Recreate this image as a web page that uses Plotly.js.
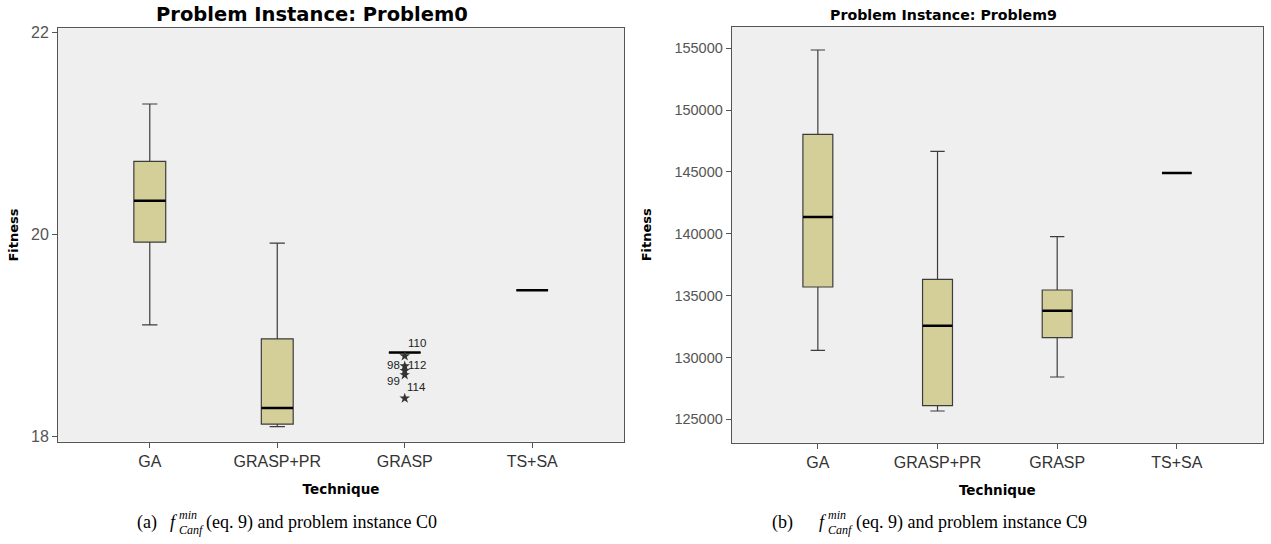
<!DOCTYPE html>
<html>
<head>
<meta charset="utf-8">
<script src="https://cdn.plot.ly/plotly-3.0.1.min.js"></script>
<style>
  html, body { margin: 0; padding: 0; background: #ffffff; }
  #chart { width: 1271px; height: 544px; }
</style>
</head>
<body>
<div id="chart"></div>
<script>
// ---------- data ----------
const techniques = ['GA', 'GRASP+PR', 'GRASP', 'TS+SA'];

// Problem0 box statistics
const p0Lower  = [19.106, 18.100, 18.832, 19.448];
const p0Q1     = [19.925, 18.123, 18.832, 19.448];
const p0Median = [20.334, 18.284, 18.832, 19.448];
const p0Q3     = [20.723, 18.968, 18.832, 19.448];
const p0Upper  = [21.291, 19.915, 18.832, 19.448];

// Problem0 extreme outliers (GRASP)
const p0OutlierTech = ['GRASP', 'GRASP', 'GRASP', 'GRASP', 'GRASP'];
const p0OutlierVals = [18.798, 18.699, 18.653, 18.611, 18.380];
const p0OutlierIds  = ['110', '98', '112', '99', '114'];

// Problem9 box statistics
const p9Lower  = [130577, 125668, 128418, 144915];
const p9Q1     = [135696, 126097, 131596, 144915];
const p9Median = [141357, 132567, 133780, 144915];
const p9Q3     = [148045, 136319, 135454, 144915];
const p9Upper  = [154863, 146670, 139764, 144915];

const p0Ticks = [18, 20, 22];
const p9Ticks = [125000, 130000, 135000, 140000, 145000, 150000, 155000];

// ---------- styles ----------
const W = 1271, H = 544;
const boxFill = '#d4cf98';
const boxLine = '#3c3c3c';
const sans = 'Liberation Sans, Arial, sans-serif';
const boldSans = 'DejaVu Sans, Liberation Sans, sans-serif';
const serif = 'Liberation Serif, Times New Roman, serif';

function boxTrace(xa, ya, lo, q1, med, q3, hi) {
  return {
    type: 'box', xaxis: xa, yaxis: ya, x: techniques,
    lowerfence: lo, q1: q1, median: med, q3: q3, upperfence: hi,
    boxpoints: false, width: 0.25, whiskerwidth: 0.48,
    fillcolor: boxFill, line: { color: boxLine, width: 1.2 },
    showlegend: false, hoverinfo: 'skip'
  };
}
function medianTrace(xa, ya, med, px) {
  return {
    type: 'scatter', mode: 'markers', xaxis: xa, yaxis: ya, x: techniques, y: med,
    marker: { symbol: 'line-ew', size: px, color: '#000', line: { color: '#000', width: 2.6 } },
    showlegend: false, hoverinfo: 'skip'
  };
}

const traces = [
  boxTrace('x', 'y', p0Lower, p0Q1, p0Median, p0Q3, p0Upper),
  medianTrace('x', 'y', p0Median, 22.6),
  {
    type: 'scatter', mode: 'markers', xaxis: 'x', yaxis: 'y',
    x: p0OutlierTech, y: p0OutlierVals,
    marker: { symbol: 'star', size: 8, color: '#333' },
    showlegend: false, hoverinfo: 'skip'
  },
  boxTrace('x2', 'y2', p9Lower, p9Q1, p9Median, p9Q3, p9Upper),
  medianTrace('x2', 'y2', p9Median, 21.2)
];

const labelShift = [[12, 12.5], [-11.5, 0.7], [12, 5.4], [-11.7, -5.7], [11.3, 11.6]];
const annotations = [];
p0OutlierIds.forEach((id, i) => {
  annotations.push({
    xref: 'x', yref: 'y', x: p0OutlierTech[i], y: p0OutlierVals[i], text: id,
    showarrow: false, xshift: labelShift[i][0], yshift: labelShift[i][1],
    font: { family: sans, size: 11.5, color: '#222' }
  });
});

// subplot titles
annotations.push({
  xref: 'paper', yref: 'paper', x: 312 / W, y: 1 - 14 / H, xanchor: 'center', yanchor: 'middle',
  text: '<b>Problem Instance: Problem0</b>', showarrow: false,
  font: { family: boldSans, size: 19.5, color: '#000' }
});
annotations.push({
  xref: 'paper', yref: 'paper', x: 943 / W, y: 1 - 15 / H, xanchor: 'center', yanchor: 'middle',
  text: '<b>Problem Instance: Problem9</b>', showarrow: false,
  font: { family: boldSans, size: 14.2, color: '#000' }
});

// captions
function caption(letter, inst, x0, xf, xs, xr) {
  const yMain = 1 - 522 / H;
  annotations.push({ xref: 'paper', yref: 'paper', x: x0 / W, y: yMain, xanchor: 'left', yanchor: 'middle',
    text: '(' + letter + ')', showarrow: false, font: { family: serif, size: 18, color: '#000' } });
  annotations.push({ xref: 'paper', yref: 'paper', x: xf / W, y: yMain, xanchor: 'left', yanchor: 'middle',
    text: '<i>f</i>', showarrow: false, font: { family: serif, size: 18, color: '#000' } });
  annotations.push({ xref: 'paper', yref: 'paper', x: xs / W, y: 1 - 515 / H, xanchor: 'left', yanchor: 'middle',
    text: '<i>min</i>', showarrow: false, font: { family: serif, size: 12, color: '#000' } });
  annotations.push({ xref: 'paper', yref: 'paper', x: xs / W, y: 1 - 530 / H, xanchor: 'left', yanchor: 'middle',
    text: '<i>Canf</i>', showarrow: false, font: { family: serif, size: 12, color: '#000' } });
  annotations.push({ xref: 'paper', yref: 'paper', x: xr / W, y: yMain, xanchor: 'left', yanchor: 'middle',
    text: '(eq. 9) and problem instance ' + inst, showarrow: false, font: { family: serif, size: 18, color: '#000' } });
}
caption('a', 'C0', 135, 168, 177, 204);
caption('b', 'C9', 770, 817, 826, 854);

const xBase = {
  type: 'category', range: [-0.72, 3.72], showgrid: false, zeroline: false,
  showline: true, mirror: true, linecolor: '#555', linewidth: 1,
  ticks: 'outside', ticklen: 5, tickcolor: '#555', tickwidth: 1,
  tickfont: { family: sans, size: 16, color: '#333' },
  title: { text: '<b>Technique</b>', font: { family: boldSans, size: 13.5, color: '#000' }, standoff: 15 },
  fixedrange: true
};
const yBase = {
  showgrid: false, zeroline: false,
  showline: true, mirror: true, linecolor: '#555', linewidth: 1,
  ticks: 'outside', ticklen: 5, tickcolor: '#555', tickwidth: 1,
  tickfont: { family: sans, size: 16, color: '#555' },
  title: { text: '<b>Fitness</b>', font: { family: boldSans, size: 13, color: '#000' } },
  fixedrange: true
};

const layout = {
  width: W, height: H,
  margin: { l: 0, r: 0, t: 0, b: 0 },
  paper_bgcolor: '#ffffff', plot_bgcolor: '#efefef',
  showlegend: false,
  xaxis: Object.assign({}, xBase, { domain: [58 / W, 624 / W], anchor: 'y' }),
  yaxis: Object.assign({}, yBase, {
    domain: [1 - 441.7 / H, 1 - 28.3 / H], anchor: 'x',
    range: [17.95, 22.04], tickvals: p0Ticks, ticktext: p0Ticks.map(String),
    title: Object.assign({}, yBase.title, { standoff: 9 })
  }),
  xaxis2: Object.assign({}, xBase, { domain: [731.7 / W, 1263 / W], anchor: 'y2' }),
  yaxis2: Object.assign({}, yBase, {
    domain: [1 - 442.7 / H, 1 - 26.7 / H], anchor: 'x2',
    range: [123105, 156747], tickvals: p9Ticks, ticktext: p9Ticks.map(String),
    tickfont: { family: sans, size: 14.5, color: '#555' },
    title: Object.assign({}, yBase.title, { standoff: 19 })
  }),
  annotations: annotations
};

Plotly.newPlot('chart', traces, layout, { displayModeBar: false, staticPlot: true });
</script>
</body>
</html>
